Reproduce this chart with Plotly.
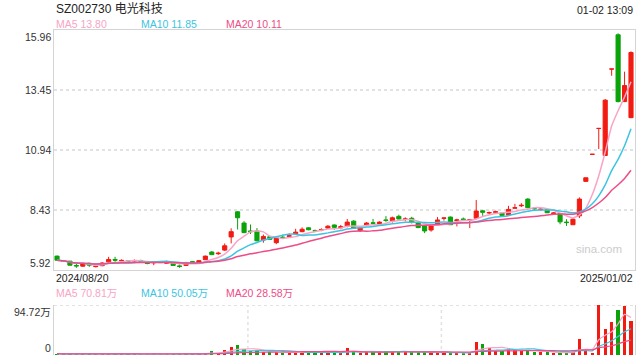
import plotly.graph_objects as go
import pandas as pd

# ---------------- data ----------------
opens = [6.50, 6.31, 6.29, 6.11, 6.08, 6.20, 6.06, 6.10, 6.26, 6.36,
         6.30, 6.30, 6.30, 6.31, 6.22, 6.22, 6.25, 6.20, 6.20, 6.09,
         6.11, 6.27, 6.23, 6.35, 6.67, 6.60, 6.75, 7.30, 8.35, 7.88,
         7.55, 7.55, 7.17, 7.31, 7.06, 7.29, 7.32, 7.43, 7.52, 7.68,
         7.56, 7.59, 7.67, 7.80, 7.68, 7.75, 7.96, 7.56, 7.80, 7.89,
         7.83, 8.01, 7.98, 8.16, 8.03, 8.08, 7.88, 7.77, 7.59, 7.83,
         8.08, 8.13, 7.98, 8.05, 8.00, 8.08, 8.39, 8.30, 8.33, 8.30,
         8.21, 8.50, 8.60, 8.88, 8.49, 8.44, 8.44, 8.28, 8.28, 7.92,
         7.81, 8.18, 9.62, 10.75, 11.83, 10.70, 14.31, 15.74, 12.95, 12.28]
highs = [6.52, 6.34, 6.30, 6.18, 6.20, 6.22, 6.15, 6.25, 6.47, 6.47,
         6.36, 6.31, 6.36, 6.35, 6.28, 6.29, 6.27, 6.31, 6.21, 6.15,
         6.26, 6.28, 6.32, 6.52, 6.71, 6.68, 7.03, 7.66, 8.38, 7.96,
         7.82, 7.67, 7.40, 7.33, 7.31, 7.40, 7.45, 7.64, 7.70, 7.71,
         7.61, 7.66, 7.79, 7.82, 7.80, 8.05, 8.00, 7.72, 7.92, 8.05,
         7.95, 8.17, 8.15, 8.23, 8.12, 8.14, 7.90, 7.79, 7.80, 8.13,
         8.11, 8.15, 8.06, 8.11, 8.05, 8.84, 8.42, 8.36, 8.40, 8.32,
         8.60, 8.68, 8.71, 8.92, 8.55, 8.52, 8.46, 8.33, 8.29, 8.04,
         8.08, 8.95, 9.77, 10.75, 11.83, 13.06, 14.31, 15.80, 14.20, 15.05]
lows = [6.31, 6.26, 6.11, 6.01, 6.06, 6.05, 6.03, 6.08, 6.24, 6.26,
        6.25, 6.25, 6.27, 6.28, 6.16, 6.12, 6.21, 6.19, 6.10, 6.01,
        6.10, 6.22, 6.22, 6.34, 6.55, 6.55, 6.71, 7.03, 7.61, 7.46,
        7.42, 7.12, 7.06, 7.18, 7.00, 7.25, 7.30, 7.38, 7.50, 7.58,
        7.50, 7.54, 7.65, 7.60, 7.62, 7.70, 7.64, 7.51, 7.76, 7.82,
        7.81, 7.93, 7.90, 8.03, 7.95, 7.86, 7.67, 7.46, 7.52, 7.80,
        7.98, 7.80, 7.74, 7.98, 7.67, 8.03, 8.18, 8.25, 8.27, 8.17,
        8.19, 8.49, 8.55, 8.50, 8.41, 8.40, 8.30, 8.25, 7.83, 7.76,
        7.80, 8.09, 9.60, 10.75, 10.97, 10.69, 14.03, 12.92, 12.93, 12.26]
closes = [6.33, 6.29, 6.12, 6.09, 6.18, 6.12, 6.08, 6.21, 6.36, 6.33,
          6.32, 6.27, 6.31, 6.29, 6.19, 6.24, 6.23, 6.27, 6.11, 6.07,
          6.21, 6.23, 6.31, 6.50, 6.56, 6.62, 6.93, 7.52, 8.10, 7.48,
          7.52, 7.14, 7.32, 7.20, 7.25, 7.27, 7.35, 7.50, 7.62, 7.60,
          7.55, 7.61, 7.75, 7.70, 7.73, 7.92, 7.66, 7.70, 7.88, 7.87,
          7.92, 7.99, 8.10, 8.05, 8.05, 7.91, 7.69, 7.55, 7.78, 8.01,
          8.09, 7.81, 8.01, 8.03, 8.02, 8.38, 8.33, 8.32, 8.35, 8.19,
          8.45, 8.52, 8.62, 8.52, 8.48, 8.46, 8.31, 8.30, 7.93, 7.90,
          8.04, 8.88, 9.77, 10.75, 11.83, 13.01, 14.31, 12.95, 13.62, 15.00]
volumes = [2.6, 1.8, 2.4, 2.2, 1.9, 2.0, 1.7, 2.1, 2.8, 2.3,
           1.6, 1.5, 1.8, 1.6, 2.0, 2.2, 1.5, 1.9, 2.1, 2.3,
           2.6, 1.8, 2.2, 4.1, 6.7, 4.1, 9.3, 14.4, 18.2, 10.5,
           6.7, 6.7, 5.4, 4.8, 5.4, 4.1, 4.1, 5.4, 5.4, 5.0,
           4.1, 5.4, 5.4, 4.1, 4.1, 13.1, 6.7, 2.9, 6.7, 5.4,
           6.7, 6.7, 6.7, 6.7, 5.4, 5.4, 5.4, 5.4, 5.4, 4.1,
           4.1, 4.1, 4.1, 4.1, 4.1, 24.6, 21.4, 13.1, 6.7, 6.7,
           13.7, 8.6, 8.6, 8.6, 5.4, 5.4, 5.4, 4.1, 4.1, 4.1,
           5.4, 31.0, 9.5, 3.5, 94.72, 48.8, 63.0, 85.2, 93.5, 64.1]

price_ticks = [15.96, 13.45, 10.94, 8.43, 5.92]
price_tick_labels = ["15.96", "13.45", "10.94", "8.43", "5.92"]
vol_ticks = [94.72, 0]
vol_tick_labels = ["94.72万", "0"]
date_labels = ["2024/08/20", "2025/01/02"]
title_text = "SZ002730 电光科技"
time_text = "01-02 13:09"
ma_names = ["MA5", "MA10", "MA20"]
ma_windows = [5, 10, 20]
price_ma_text = ["13.80", "11.85", "10.11"]
vol_ma_text = ["70.81万", "50.05万", "28.58万"]
vol_vlines = [29.6, 59.6]

# ---------------- style ----------------
RED = "#f21b12"
GREEN = "#0aa30a"
MA_COLORS = ["#f8a4c6", "#3cc4e2", "#ee4c87"]
BORDER = "#d4d4d4"
GRID = "#e2e2e2"
FONT = "Liberation Sans, Arial, Noto Sans CJK SC, sans-serif"
W, H = 640, 360

n = len(closes)
xs = list(range(n))
xr = [-0.47, n - 0.38]
cs = pd.Series(closes)
vs = pd.Series(volumes)

fig = go.Figure()
fig.add_trace(go.Candlestick(
    x=xs, open=opens, high=highs, low=lows, close=closes,
    increasing=dict(line=dict(color=RED, width=1), fillcolor=RED),
    decreasing=dict(line=dict(color=GREEN, width=1), fillcolor=GREEN),
    hoverinfo="skip", xaxis="x", yaxis="y"))
for w, c in zip(ma_windows, MA_COLORS):
    fig.add_trace(go.Scatter(x=xs, y=cs.rolling(w, min_periods=1).mean(), mode="lines",
                             line=dict(color=c, width=1.5, shape="spline", smoothing=0.5),
                             hoverinfo="skip", xaxis="x", yaxis="y"))

vcolors = [RED if c >= o else GREEN for o, c in zip(opens, closes)]
fig.add_trace(go.Bar(x=xs, y=volumes, marker=dict(color=vcolors, line=dict(width=0)),
                     width=0.5, hoverinfo="skip", xaxis="x2", yaxis="y2"))
for w, c in zip(ma_windows, MA_COLORS):
    fig.add_trace(go.Scatter(x=xs, y=vs.rolling(w, min_periods=1).mean(), mode="lines",
                             line=dict(color=c, width=1.2, shape="spline", smoothing=0.5),
                             hoverinfo="skip", xaxis="x2", yaxis="y2"))

xdom = [54 / W, 635 / W]
fig.update_layout(
    width=W, height=H, margin=dict(l=0, r=0, t=0, b=0),
    paper_bgcolor="white", plot_bgcolor="white", showlegend=False,
    boxgap=0.2, boxgroupgap=0.2, hovermode=False, bargap=0,
    font=dict(family=FONT, size=10.5, color="#333"),
    xaxis=dict(domain=xdom, range=xr, anchor="y", showticklabels=False, showgrid=False,
               zeroline=False, showline=True, mirror=True, linecolor=BORDER, linewidth=1,
               ticks="", rangeslider=dict(visible=False), fixedrange=True),
    yaxis=dict(domain=[1 - 270 / H, 1 - 29.5 / H], range=[price_ticks[-1], price_ticks[0]],
               anchor="x", tickvals=price_ticks[1:-1], showticklabels=False, showgrid=True,
               gridcolor=GRID, griddash="dot", gridwidth=2, zeroline=False, showline=True,
               mirror=True, linecolor=BORDER, linewidth=1, ticks="", fixedrange=True),
    xaxis2=dict(domain=xdom, range=xr, anchor="y2", showticklabels=False, showgrid=False,
                zeroline=False, showline=False, ticks="", fixedrange=True),
    yaxis2=dict(domain=[1 - 355 / H, 1 - 305 / H], range=[vol_ticks[1], vol_ticks[0]],
                anchor="x2", showticklabels=False, showgrid=False, zeroline=False,
                showline=True, mirror=True, linecolor=BORDER, linewidth=1, ticks="",
                fixedrange=True),
)

shapes = [dict(type="line", xref="x2 domain", yref="y2", x0=0, x1=1, y0=vol_ticks[0],
               y1=vol_ticks[0], line=dict(color=GRID, width=2, dash="dot"))]
for v in vol_vlines:
    shapes.append(dict(type="line", xref="x2", yref="y2 domain", x0=v, x1=v, y0=0, y1=1,
                       line=dict(color=GRID, width=1.5, dash="dot"), layer="below"))
fig.update_layout(shapes=shapes)

ann = []
def A(text, x, y, xanchor="left", yanchor="middle", xref="paper", yref="paper",
      size=10.5, color="#333"):
    ann.append(dict(text=text, x=x, y=y, xref=xref, yref=yref, xanchor=xanchor,
                    yanchor=yanchor, showarrow=False, borderpad=0,
                    font=dict(family=FONT, size=size, color=color)))

A(title_text, 55 / W, 1 - 8.5 / H, size=12, color="#222")
A(time_text, 634 / W, 1 - 10 / H, xanchor="right", color="#222")
for k, (name, c, px) in enumerate(zip(ma_names, MA_COLORS, [55, 140, 225])):
    A(f"{name} {price_ma_text[k]}", px / W, 1 - 24 / H, color=c)
    A(f"{name} {vol_ma_text[k]}", px / W, 1 - 293 / H, color=c)
for i, (t, lab) in enumerate(zip(price_ticks, price_tick_labels)):
    ya = "top" if i == 0 else ("bottom" if i == len(price_ticks) - 1 else "middle")
    A(lab, 52 / W, t, xanchor="right", yanchor=ya, yref="y")
for i, (t, lab) in enumerate(zip(vol_ticks, vol_tick_labels)):
    ya = "top" if i == 0 else "bottom"
    A(lab, 52 / W, t, xanchor="right", yanchor=ya, yref="y2")
A(date_labels[0], 55 / W, 1 - 277.5 / H, color="#222")
A(date_labels[1], 634 / W, 1 - 277.5 / H, xanchor="right", color="#222")
A("sina.com", 623 / W, 1 - 249 / H, xanchor="right", size=11.5, color="#cccccc")
fig.update_layout(annotations=ann)

fig.write_html("out.html", config=dict(displayModeBar=False, staticPlot=True),
               post_script="document.body.style.margin='0';document.body.style.padding='0';"
                           "document.documentElement.style.overflow='hidden';")
